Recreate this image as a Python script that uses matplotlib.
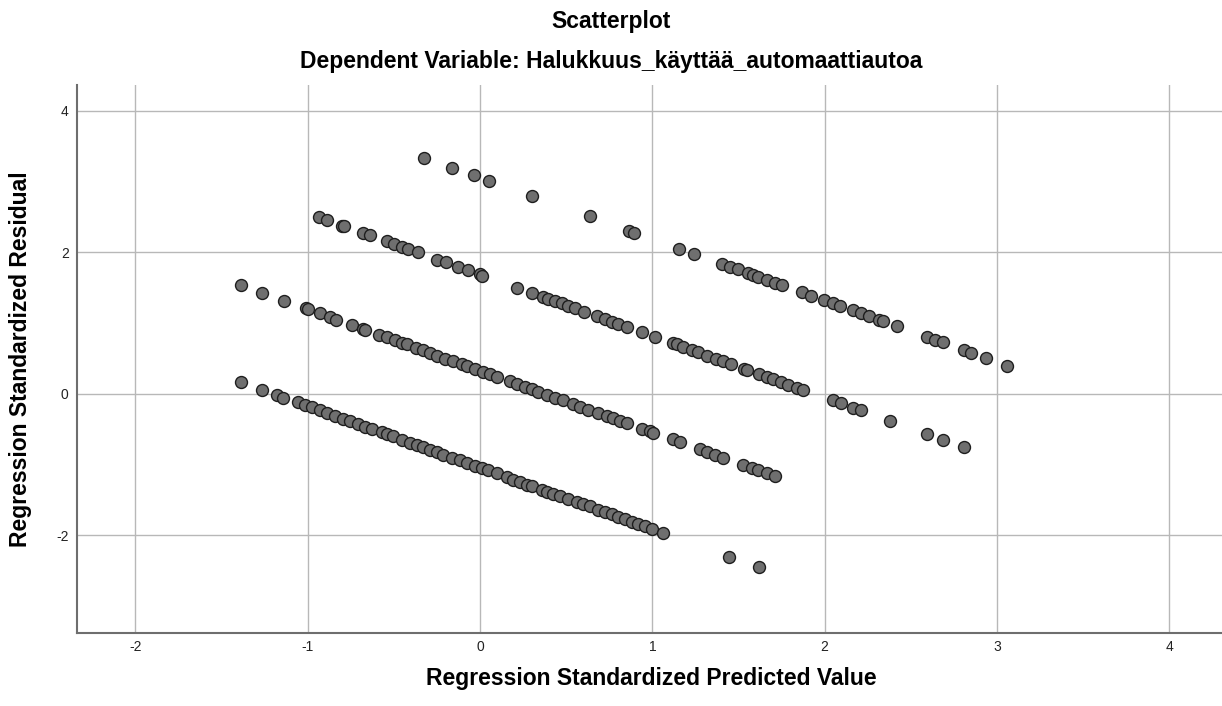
import matplotlib
matplotlib.use("Agg")
import matplotlib.pyplot as plt
import numpy as np

plt.rcParams['font.family'] = ['Liberation Sans', 'DejaVu Sans']
plt.rcParams['axes.unicode_minus'] = False

# Standardized predicted values / residuals, one list pair per residual band
band_a_x = [-1.389, -1.267, -1.180, -1.142, -1.054, -1.016, -0.977, -0.929, -0.890, -0.842,
            -0.793, -0.754, -0.706, -0.667, -0.629, -0.571, -0.542, -0.503, -0.455, -0.406,
            -0.367, -0.329, -0.290, -0.251, -0.213, -0.164, -0.116, -0.077, -0.029, 0.010,
            0.048, 0.097, 0.155, 0.193, 0.232, 0.271, 0.300, 0.358, 0.387, 0.426,
            0.464, 0.513, 0.561, 0.600, 0.638, 0.687, 0.725, 0.764, 0.803, 0.842,
            0.880, 0.919, 0.958, 0.996, 1.064, 1.445, 1.619]
band_a_y = [0.17, 0.06, -0.01, -0.05, -0.12, -0.16, -0.19, -0.23, -0.27, -0.31,
            -0.35, -0.38, -0.43, -0.46, -0.49, -0.54, -0.57, -0.60, -0.65, -0.69,
            -0.72, -0.75, -0.79, -0.82, -0.86, -0.90, -0.94, -0.97, -1.02, -1.05,
            -1.08, -1.12, -1.18, -1.21, -1.24, -1.28, -1.30, -1.35, -1.38, -1.41,
            -1.44, -1.49, -1.53, -1.56, -1.59, -1.64, -1.67, -1.70, -1.74, -1.77,
            -1.81, -1.84, -1.87, -1.91, -1.97, -2.30, -2.45]

band_b_x = [-1.389, -1.267, -1.138, -1.010, -1.000, -0.929, -0.871, -0.836, -0.745, -0.677,
            -0.668, -0.585, -0.538, -0.493, -0.455, -0.426, -0.371, -0.333, -0.290, -0.248,
            -0.203, -0.158, -0.106, -0.077, -0.029, 0.019, 0.058, 0.097, 0.174, 0.213,
            0.261, 0.300, 0.338, 0.387, 0.435, 0.484, 0.542, 0.580, 0.629, 0.687,
            0.735, 0.774, 0.813, 0.851, 0.938, 0.987, 1.006, 1.118, 1.161, 1.277,
            1.316, 1.364, 1.408, 1.528, 1.577, 1.615, 1.664, 1.712]
band_b_y = [1.54, 1.43, 1.32, 1.21, 1.20, 1.14, 1.09, 1.05, 0.98, 0.92,
            0.91, 0.84, 0.80, 0.76, 0.72, 0.70, 0.65, 0.62, 0.58, 0.54,
            0.50, 0.47, 0.42, 0.40, 0.35, 0.31, 0.28, 0.24, 0.18, 0.14,
            0.10, 0.07, 0.03, -0.01, -0.05, -0.09, -0.14, -0.18, -0.22, -0.27,
            -0.31, -0.34, -0.38, -0.41, -0.49, -0.53, -0.55, -0.64, -0.68, -0.78,
            -0.82, -0.86, -0.90, -1.00, -1.04, -1.08, -1.12, -1.16]

band_c_x = [-0.933, -0.890, -0.799, -0.788, -0.677, -0.638, -0.542, -0.497, -0.451, -0.420,
            -0.362, -0.248, -0.197, -0.130, -0.072, 0.000, 0.014, 0.213, 0.300, 0.368,
            0.397, 0.435, 0.474, 0.513, 0.551, 0.604, 0.677, 0.725, 0.764, 0.803,
            0.851, 0.942, 1.016, 1.118, 1.141, 1.180, 1.229, 1.267, 1.316, 1.370,
            1.408, 1.455, 1.532, 1.548, 1.621, 1.664, 1.702, 1.745, 1.789, 1.838,
            1.876, 2.047, 2.095, 2.167, 2.211, 2.380, 2.596, 2.685, 2.809]
band_c_y = [2.50, 2.46, 2.38, 2.37, 2.28, 2.24, 2.16, 2.12, 2.08, 2.05,
            2.00, 1.90, 1.86, 1.80, 1.75, 1.69, 1.67, 1.50, 1.43, 1.37,
            1.34, 1.31, 1.28, 1.24, 1.21, 1.16, 1.10, 1.06, 1.02, 0.99,
            0.95, 0.87, 0.80, 0.72, 0.70, 0.66, 0.62, 0.59, 0.54, 0.50,
            0.46, 0.42, 0.36, 0.34, 0.28, 0.24, 0.21, 0.17, 0.13, 0.09,
            0.06, -0.09, -0.13, -0.20, -0.23, -0.38, -0.57, -0.65, -0.75]

band_d_x = [-0.323, -0.161, -0.037, 0.054, 0.304, 0.638, 0.867, 0.896, 1.157, 1.242,
            1.403, 1.451, 1.499, 1.557, 1.586, 1.615, 1.664, 1.712, 1.751, 1.870,
            1.920, 1.995, 2.047, 2.087, 2.167, 2.212, 2.260, 2.316, 2.341, 2.422,
            2.594, 2.639, 2.685, 2.807, 2.850, 2.935, 3.060]
band_d_y = [3.34, 3.20, 3.09, 3.01, 2.80, 2.51, 2.31, 2.28, 2.05, 1.98,
            1.84, 1.80, 1.76, 1.71, 1.68, 1.66, 1.61, 1.57, 1.54, 1.44,
            1.39, 1.33, 1.28, 1.25, 1.18, 1.14, 1.10, 1.05, 1.03, 0.96,
            0.81, 0.77, 0.73, 0.62, 0.58, 0.51, 0.40]

x_ticks = [-2, -1, 0, 1, 2, 3, 4]
y_ticks = [-2, 0, 2, 4]

pred = np.concatenate([band_a_x, band_b_x, band_c_x, band_d_x])
resid = np.concatenate([band_a_y, band_b_y, band_c_y, band_d_y])

fig = plt.figure(figsize=(12.22, 7.06), dpi=100)
ax = fig.add_axes([0.063, 0.1034, 0.937, 0.7762])

ax.set_axisbelow(True)
ax.grid(True, color='#b8b8b8', linewidth=1.0)
ax.scatter(pred, resid, s=74, facecolor='#6f6f6f', edgecolor='#1e1e1e',
           linewidth=1.0, zorder=3)

ax.set_xlim(-2.339, 4.306)
ax.set_ylim(-3.378, 4.367)
ax.set_xticks(x_ticks)
ax.set_yticks(y_ticks)
ax.tick_params(length=0, labelsize=10, colors='#222222')
ax.tick_params(axis='x', pad=5)
ax.tick_params(axis='y', pad=6)

for side in ['top', 'right']:
    ax.spines[side].set_visible(False)
for side in ['left', 'bottom']:
    ax.spines[side].set_color('#6e6e6e')
    ax.spines[side].set_linewidth(1.5)

# axis titles and chart titles placed in figure coordinates
fig.text(0.533, 0.0297, 'Regression Standardized Predicted Value',
         ha='center', va='baseline', fontsize=16.5, fontweight='bold')
fig.text(0.0165, 0.4915, 'Regression Standardized Residual', rotation=90,
         ha='center', va='center', fontsize=16.5, fontweight='bold')

fig.text(0.5, 0.9603, 'Scatterplot', ha='center', va='baseline',
         fontsize=16.5, fontweight='bold')
fig.text(0.5, 0.9037, 'Dependent Variable: Halukkuus_käyttää_automaattiautoa',
         ha='center', va='baseline', fontsize=16.5, fontweight='bold')

fig.savefig('out.png', dpi=100)
